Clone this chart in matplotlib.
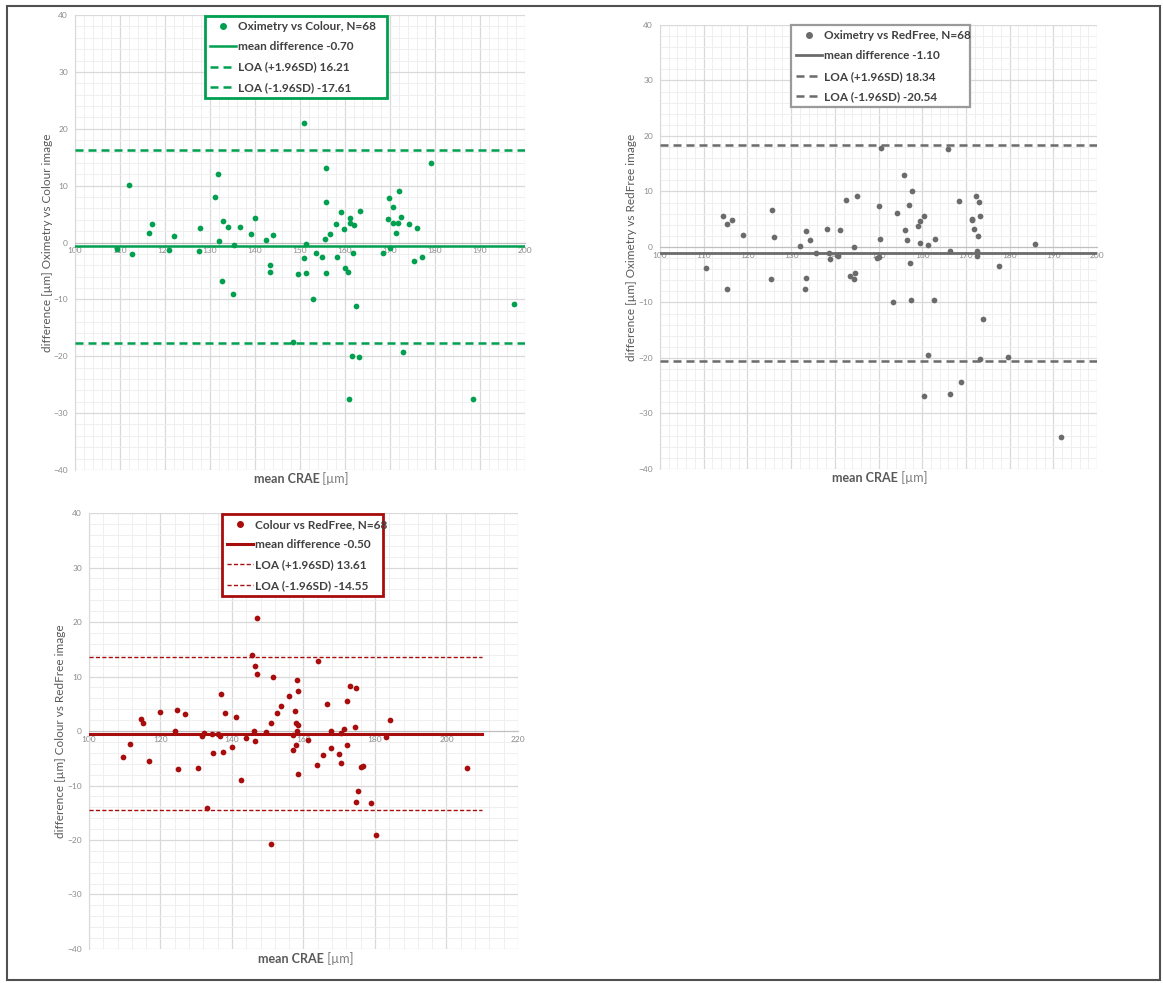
import matplotlib.pyplot as plt
from matplotlib.ticker import MultipleLocator
from matplotlib.lines import Line2D
from matplotlib.patches import Rectangle

plt.rcParams['font.family'] = ['Lato', 'DejaVu Sans']

# Oximetry vs Colour image
oc_mean = [109.4, 111.9, 112.6, 116.4, 117.1, 120.9, 121.9, 127.5, 127.7, 131.0,
           131.7, 132.1, 132.7, 132.9, 133.9, 135.2, 135.3, 136.7, 139.1, 140.1,
           142.5, 143.4, 143.4, 143.9, 148.4, 149.5, 150.8, 150.8, 151.4, 151.4,
           153.0, 153.5, 155.0, 155.5, 155.8, 155.8, 155.8, 156.6, 158.0, 158.2,
           159.1, 159.8, 159.9, 160.6, 160.9, 161.1, 161.2, 161.5, 161.8, 162.1,
           162.4, 163.2, 163.3, 168.4, 169.6, 169.7, 170.1, 170.7, 170.7, 171.3,
           171.8, 172.0, 172.5, 172.8, 174.2, 175.3, 175.9, 177.1, 179.2, 188.5,
           197.6]
oc_diff = [-1.2, 10.2, -2.0, 1.7, 3.3, -1.35, 1.2, -1.5, 2.6, 8.0,
           12.1, 0.35, -6.7, 3.8, 2.8, -9.0, -0.5, 2.7, 1.5, 4.3,
           0.5, -3.9, -5.2, 1.4, -17.55, -5.6, 21.1, -2.7, -0.35, -5.3,
           -10.0, -1.8, -2.6, 0.7, 13.1, 7.2, -5.3, 1.5, 3.2, -2.6,
           5.3, 2.3, -4.4, -5.1, -27.6, 4.3, 3.5, -19.95, -1.8, 3.0,
           -11.1, -20.2, 5.5, -1.8, 4.2, 7.9, -0.9, 6.3, 3.5, 1.6,
           3.5, 9.0, 4.5, -19.25, 3.2, -3.2, 2.5, -2.5, 14.0, -27.6,
           -10.9]
oc_bias, oc_hi, oc_lo = -0.70, 16.21, -17.61

# Oximetry vs RedFree image
orf_mean = [110.6, 114.5, 115.3, 115.4, 116.5, 119.1, 125.3, 125.7, 126.0, 132.1,
            133.2, 133.3, 133.5, 134.4, 135.8, 138.1, 138.7, 138.9, 140.4, 140.7,
            141.1, 142.6, 143.5, 144.3, 144.5, 144.6, 145.0, 149.6, 150.0, 150.1,
            150.3, 150.5, 153.2, 154.2, 155.8, 156.1, 156.4, 157.0, 157.2, 157.4,
            157.7, 159.1, 159.4, 159.5, 160.4, 160.5, 161.3, 161.4, 162.7, 162.9,
            166.0, 166.4, 166.4, 168.4, 168.8, 171.3, 171.3, 171.8, 172.2, 172.6,
            172.6, 172.7, 173.1, 173.2, 173.3, 174.0, 177.6, 179.6, 185.9, 191.8]
orf_diff = [-3.7, 5.5, 4.1, -7.5, 4.8, 2.2, -5.7, 6.6, 1.8, 0.1,
            -7.6, 2.8, -5.5, 1.3, -1.0, 3.2, -1.1, -2.2, -1.5, -1.6,
            3.1, 8.5, -5.2, -5.8, 0.0, -4.6, 9.2, -1.9, 7.4, -1.8,
            1.4, 17.8, -10.0, 6.2, 12.9, 3.1, 1.3, 7.6, -2.8, -9.5,
            10.0, 3.8, 0.7, 4.6, -26.8, 5.6, 0.4, -19.5, -9.5, 1.4,
            17.6, -0.8, -26.5, 8.3, -24.3, 5.1, 4.8, 3.2, 9.1, -0.8,
            -1.7, 2.0, 8.1, -20.2, 5.6, -13.0, -3.4, -19.9, 0.6, -34.2]
orf_bias, orf_hi, orf_lo = -1.10, 18.34, -20.54

# Colour vs RedFree image
crf_mean = [109.5, 111.6, 114.6, 115.0, 116.7, 119.9, 124.1, 124.5, 125.0, 126.9,
            130.6, 131.6, 132.3, 133.0, 134.5, 134.6, 136.2, 136.6, 136.9, 137.5,
            138.1, 139.9, 141.0, 142.5, 144.0, 145.6, 146.2, 146.3, 146.4, 147.1,
            147.1, 149.4, 150.9, 150.9, 151.5, 152.5, 153.7, 156.0, 157.0, 157.2,
            157.7, 157.8, 158.0, 158.3, 158.3, 158.5, 158.5, 158.5, 161.4, 163.8,
            164.0, 165.5, 166.7, 167.6, 167.8, 169.8, 170.4, 170.6, 171.4, 172.1,
            172.1, 173.0, 174.4, 174.6, 174.7, 175.2, 176.1, 176.6, 179.0, 180.3,
            183.1, 184.2, 205.6]
crf_diff = [-4.7, -2.4, 2.25, 1.4, -5.5, 3.5, -0.06, 3.9, -6.9, 3.2,
            -6.8, -0.97, -0.3, -14.2, -0.5, -4.0, -0.6, -1.0, 6.7, -3.9,
            3.3, -2.9, 2.6, -8.95, -1.3, 13.9, -0.06, -1.8, 11.9, 20.7,
            10.5, -0.1, 1.5, -20.7, 9.9, 3.3, 4.5, 6.45, -0.7, -3.4,
            3.7, -2.6, 1.4, 9.3, -0.06, 7.4, 1.15, -7.85, -1.6, -6.3,
            12.9, -4.4, 4.9, -3.2, -0.06, -4.3, -0.4, -5.9, 0.3, 5.5,
            -2.6, 8.2, 0.7, -13.0, 7.85, -11.0, -6.6, -6.5, -13.3, -19.0,
            -1.1, 2.0, -6.8]
crf_bias, crf_hi, crf_lo = -0.50, 13.61, -14.55

N = 68
TXT = '#404040'
TICK = '#8c8c8c'


def bland_altman(ax, x, y, bias, hi, lo, color, name, ylabel, xmax, xstep, xminor,
                 line_end, dash, loa_lw, mean_lw, leg_box, frame_lw, ylab_x, xlab_y):
    ax.set_xlim(100, xmax)
    ax.set_ylim(-40, 40)
    ax.xaxis.set_major_locator(MultipleLocator(xstep))
    ax.xaxis.set_minor_locator(MultipleLocator(xminor))
    ax.yaxis.set_major_locator(MultipleLocator(10))
    ax.yaxis.set_minor_locator(MultipleLocator(2))
    ax.grid(which='major', color='#d9d9d9', lw=0.9)
    ax.grid(which='minor', color='#efefef', lw=0.7)
    ax.set_axisbelow(True)
    for s in ['top', 'right']:
        ax.spines[s].set_visible(False)
    ax.spines['left'].set_color('#d9d9d9')
    ax.spines['bottom'].set_position(('data', 0))
    ax.spines['bottom'].set_color('#bfbfbf')
    ax.tick_params(which='both', length=0, labelsize=6, labelcolor=TICK)
    ax.tick_params(axis='x', pad=3.5)
    ax.tick_params(axis='y', pad=5)

    frac = (line_end - 100) / (xmax - 100)
    ax.axhline(bias, xmax=frac, color=color, lw=mean_lw, zorder=3)
    ax.axhline(hi, xmax=frac, color=color, lw=loa_lw, dashes=dash, zorder=3)
    ax.axhline(lo, xmax=frac, color=color, lw=loa_lw, dashes=dash, zorder=3)
    ax.scatter(x, y, s=17, color=color, zorder=4, linewidths=0)

    handles = [
        Line2D([], [], color=color, marker='o', ls='none', ms=4),
        Line2D([], [], color=color, lw=mean_lw),
        Line2D([], [], color=color, lw=loa_lw, dashes=dash),
        Line2D([], [], color=color, lw=loa_lw, dashes=dash),
    ]
    labels = [f'{name}, N={N}',
              f'mean difference {bias:.2f}',
              f'LOA (+1.96SD) {hi:.2f}',
              f'LOA (-1.96SD) {lo:.2f}']
    leg = ax.legend(handles, labels, loc='upper left', bbox_to_anchor=leg_box,
                    mode='expand', borderaxespad=0, fancybox=False, framealpha=1,
                    edgecolor=color, handlelength=2.2, handletextpad=0.15,
                    labelspacing=0.78, borderpad=0.45, prop={'size': 8.5, 'weight': 'bold'})
    leg.get_frame().set_linewidth(frame_lw)
    for t in leg.get_texts():
        t.set_color(TXT)

    ax.text(ylab_x, 0.5, ylabel, transform=ax.transAxes, rotation=90,
            ha='center', va='center', fontsize=8.5, color='#595959')
    t1 = ax.text(0.47, xlab_y, 'mean CRAE', transform=ax.transAxes, ha='center',
                 va='center', fontsize=9, weight='bold', color='#595959')
    ax.annotate(' [\u00b5m]', xy=(1, 0), xycoords=t1, va='bottom', ha='left',
                fontsize=9, color='#7f7f7f')


fig = plt.figure(figsize=(11.63, 9.83), dpi=100)

ax1 = fig.add_axes([0.0645, 0.5219, 0.3869, 0.4628])
bland_altman(ax1, oc_mean, oc_diff, oc_bias, oc_hi, oc_lo, '#00a050',
             'Oximetry vs Colour', 'difference [\u00b5m] Oximetry vs Colour image',
             200, 10, 2, 200, (3.2, 2.0), 1.8, 1.8, (0.289, 0.0, 0.404, 0.998), 2.0,
             -0.062, -0.02)

ax2 = fig.add_axes([0.5675, 0.5229, 0.3758, 0.4517])
bland_altman(ax2, orf_mean, orf_diff, orf_bias, orf_hi, orf_lo, '#6b6b6b',
             'Oximetry vs RedFree', 'difference [\u00b5m] Oximetry vs RedFree image',
             200, 10, 2, 200, (3.2, 2.0), 1.8, 2.0, (0.299, 0.0, 0.41, 1.0), 1.6,
             -0.065, -0.02)
ax2.get_legend().get_frame().set_edgecolor('#9a9a9a')

ax3 = fig.add_axes([0.0765, 0.0346, 0.3689, 0.4435])
bland_altman(ax3, crf_mean, crf_diff, crf_bias, crf_hi, crf_lo, '#a80d0d',
             'Colour vs RedFree', 'difference [\u00b5m] Colour vs RedFree image',
             220, 20, 4, 210, (3.0, 1.6), 1.0, 2.2, (0.309, 0.0, 0.377, 0.998), 2.0,
             -0.066, -0.023)

# outer frame
fig.add_artist(Rectangle((7 / 1163, 1 - 980 / 983), 1153 / 1163, 974 / 983,
                         transform=fig.transFigure, fill=False, ec='#505050', lw=1.5))

fig.savefig('out.png', dpi=100)
